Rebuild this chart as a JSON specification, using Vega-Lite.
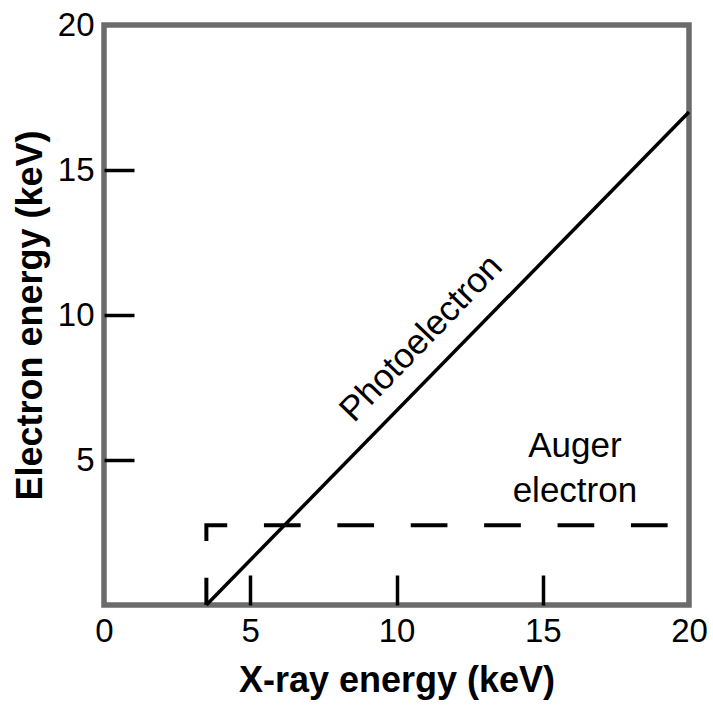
{
  "$schema": "https://vega.github.io/schema/vega-lite/v6.json",
  "width": 585,
  "height": 580,
  "autosize": "none",
  "padding": {"left": 104, "top": 25, "right": 24, "bottom": 100},
  "config": {
    "view": {"stroke": "#6b6b6b", "strokeWidth": 5.5},
    "font": "Liberation Sans"
  },
  "datasets": {
    "photo": [
      {"xray": 3.5, "energy": 0},
      {"xray": 20, "energy": 17}
    ],
    "auger": [
      {"xray": 19.27, "energy": 2.75, "step": 1},
      {"xray": 3.5, "energy": 2.75, "step": 2},
      {"xray": 3.5, "energy": 0, "step": 3}
    ],
    "notes": [
      {"label": "Photoelectron", "xray": 10.84, "energy": 9.2, "kind": "photo"},
      {"label": "Auger", "xray": 16.1, "energy": 5.1, "kind": "auger"},
      {"label": "electron", "xray": 16.1, "energy": 3.56, "kind": "auger"}
    ]
  },
  "layer": [
    {
      "data": {"name": "photo"},
      "mark": {"type": "line", "color": "black", "strokeWidth": 3.5},
      "encoding": {
        "x": {
          "field": "xray",
          "type": "quantitative",
          "scale": {"domain": [0, 20], "nice": false, "zero": false},
          "axis": {
            "values": [0, 5, 10, 15, 20],
            "title": "X-ray energy (keV)",
            "domain": false,
            "grid": false,
            "tickSize": -30,
            "tickWidth": 3.5,
            "tickColor": "black",
            "tickOpacity": {"condition": {"test": "datum.value == 0 || datum.value == 20", "value": 0}, "value": 1},
            "labelPadding": 40,
            "labelFontSize": 33,
            "labelColor": "black",
            "labelFont": "Liberation Sans",
            "labelFlush": false,
            "labelOverlap": false,
            "titleFont": "Liberation Sans",
            "titleFontSize": 36,
            "titleFontWeight": "bold",
            "titleColor": "black",
            "titlePadding": 15
          }
        },
        "y": {
          "field": "energy",
          "type": "quantitative",
          "scale": {"domain": [0, 20], "nice": false, "zero": false},
          "axis": {
            "values": [5, 10, 15, 20],
            "title": "Electron energy (keV)",
            "domain": false,
            "grid": false,
            "tickSize": -30,
            "tickWidth": 3.5,
            "tickColor": "black",
            "tickOpacity": {"condition": {"test": "datum.value == 20", "value": 0}, "value": 1},
            "labelPadding": 40,
            "labelFontSize": 33,
            "labelColor": "black",
            "labelFont": "Liberation Sans",
            "labelFlush": false,
            "labelOverlap": false,
            "titleFont": "Liberation Sans",
            "titleFontSize": 36,
            "titleFontWeight": "bold",
            "titleColor": "black",
            "titlePadding": 8
          }
        }
      }
    },
    {
      "data": {"name": "auger"},
      "mark": {"type": "line", "color": "black", "strokeWidth": 4, "strokeDash": [36.7, 36.7]},
      "encoding": {
        "x": {"field": "xray", "type": "quantitative"},
        "y": {"field": "energy", "type": "quantitative"},
        "order": {"field": "step", "type": "quantitative"}
      }
    },
    {
      "data": {"name": "notes"},
      "transform": [{"filter": "datum.kind == 'photo'"}],
      "mark": {"type": "text", "font": "Liberation Sans", "fontSize": 35, "angle": -46, "align": "center", "baseline": "middle", "color": "black"},
      "encoding": {
        "x": {"field": "xray", "type": "quantitative"},
        "y": {"field": "energy", "type": "quantitative"},
        "text": {"field": "label"}
      }
    },
    {
      "data": {"name": "notes"},
      "transform": [{"filter": "datum.kind == 'auger'"}],
      "mark": {"type": "text", "font": "Liberation Sans", "fontSize": 35, "align": "center", "baseline": "alphabetic", "color": "black"},
      "encoding": {
        "x": {"field": "xray", "type": "quantitative"},
        "y": {"field": "energy", "type": "quantitative"},
        "text": {"field": "label"}
      }
    }
  ]
}
